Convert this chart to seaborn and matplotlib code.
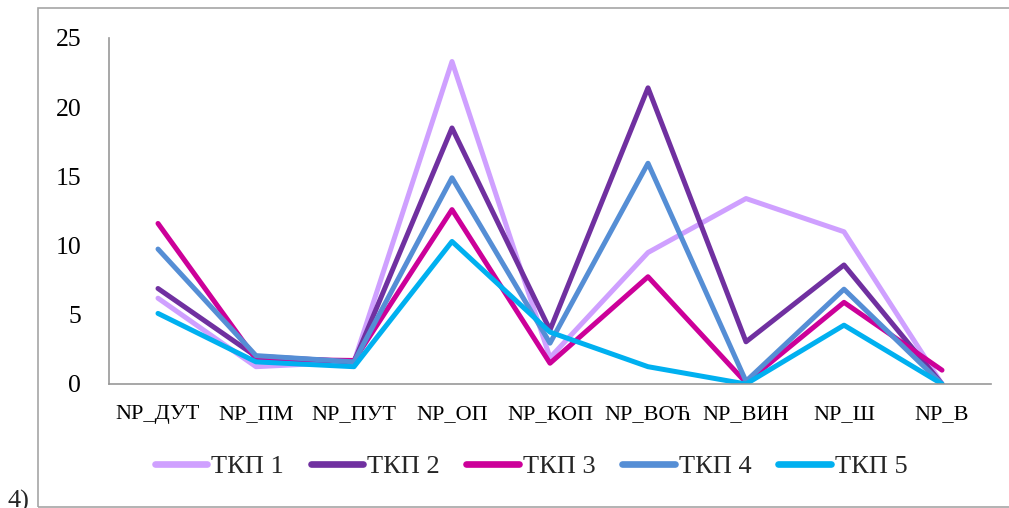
import matplotlib
matplotlib.use("Agg")
import matplotlib.pyplot as plt
from matplotlib.patches import Rectangle
import seaborn as sns
import pandas as pd

categories = ["NP_ДУТ", "NP_ПМ", "NP_ПУТ", "NP_ОП", "NP_КОП", "NP_ВОЋ", "NP_ВИН", "NP_Ш", "NP_В"]
tkp1 = [6.2, 1.25, 1.6, 23.3, 1.9, 9.5, 13.4, 11.0, 0.0]
tkp2 = [6.9, 2.0, 1.6, 18.5, 3.9, 21.4, 3.05, 8.6, 0.0]
tkp3 = [11.6, 1.8, 1.7, 12.6, 1.5, 7.75, 0.1, 5.9, 1.0]
tkp4 = [9.75, 2.05, 1.6, 14.9, 2.95, 15.95, 0.2, 6.85, 0.0]
tkp5 = [5.1, 1.6, 1.25, 10.3, 3.75, 1.25, 0.0, 4.25, 0.0]
series_names = ["ТКП 1", "ТКП 2", "ТКП 3", "ТКП 4", "ТКП 5"]
colors = ["#CFA0FF", "#7030A0", "#CC0099", "#558ED5", "#00B0F0"]
y_ticks = [0, 5, 10, 15, 20, 25]

rows = []
for name, vals in zip(series_names, [tkp1, tkp2, tkp3, tkp4, tkp5]):
    for cat, v in zip(categories, vals):
        rows.append({"cat": cat, "value": v, "series": name})
df = pd.DataFrame(rows)

sns.set_style("white")
plt.rcParams["font.family"] = ["Liberation Serif", "DejaVu Serif"]

fig = plt.figure(figsize=(10.09, 5.08), dpi=100)
ax = fig.add_axes([109 / 1009, 1 - 384 / 508, 882 / 1009, 346 / 508])

sns.lineplot(data=df, x="cat", y="value", hue="series", palette=colors,
             sort=False, linewidth=3.6, ax=ax, legend=True)

ax.set_xlim(-0.5, len(categories) - 0.5)
ax.set_ylim(0, 25)
ax.set_yticks(y_ticks)
ax.set_xlabel("")
ax.set_ylabel("")
for side in ["top", "right"]:
    ax.spines[side].set_visible(False)
for side in ["left", "bottom"]:
    ax.spines[side].set_color("#989898")
    ax.spines[side].set_linewidth(1.2)
ax.tick_params(axis="y", length=0, pad=20, labelsize=18.5, labelcolor="black")
ax.tick_params(axis="x", length=0, pad=15, labelsize=16, labelcolor="black")

handles, labels = ax.get_legend_handles_labels()
ax.get_legend().remove()
for h in handles:
    h.set_linewidth(4.8)
fig.legend(handles, labels, loc="center", bbox_to_anchor=(531 / 1009, 1 - 466 / 508),
           ncol=5, frameon=False, fontsize=19, handlelength=2.0,
           handletextpad=0.15, columnspacing=1.0)

# outer frame of the chart area
fig.patches.append(Rectangle((38 / 1009, 1 - 507 / 508), 1.0, 499 / 508,
                             transform=fig.transFigure, fill=False,
                             edgecolor="#a6a6a6", linewidth=1.2))

fig.text(8 / 1009, 1 - 490 / 508, "4)", fontsize=19, va="top", ha="left")

fig.savefig("out.png", dpi=100)
